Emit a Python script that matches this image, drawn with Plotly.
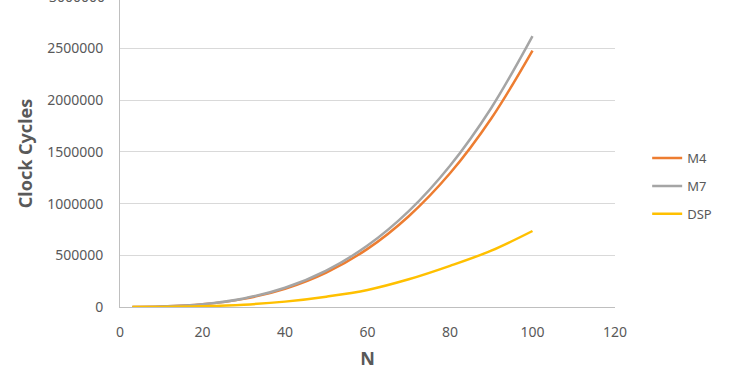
import plotly.graph_objects as go

N = [3, 10, 20, 30, 40, 50, 60, 70, 80, 90, 100]
M4 = [230, 4100, 25700, 78600, 176400, 333000, 562000, 878000, 1293000, 1823000, 2480000]
M7 = [240, 4400, 27200, 83000, 186000, 352000, 594000, 927000, 1366000, 1925000, 2620000]
DSP = [50, 800, 7000, 22000, 52000, 100000, 165000, 268000, 398000, 545000, 735000]

series = [("M4", M4, "#ED7D31"), ("M7", M7, "#A5A5A5"), ("DSP", DSP, "#FFC000")]
y_ticks = [0, 500000, 1000000, 1500000, 2000000, 2500000, 3000000]
x_ticks = [0, 20, 40, 60, 80, 100, 120]
Y_MAX = 2969000

FONT = "Noto Sans"
TXT = "#595959"

fig = go.Figure()
for name, vals, col in series:
    fig.add_trace(go.Scatter(x=N, y=vals, name=name, mode="lines",
                             line=dict(color=col, width=2.5, shape="spline"),
                             legendgroup=name))

fig.update_layout(
    width=750, height=375,
    margin=dict(l=120, r=135, t=0, b=68),
    paper_bgcolor="white", plot_bgcolor="white",
    font=dict(family=FONT, size=14, color=TXT),
    showlegend=True,
    legend=dict(x=1.065, xanchor="left", y=0.394, yanchor="middle",
                tracegroupgap=8, font=dict(size=13, color=TXT),
                bgcolor="rgba(0,0,0,0)"),
    xaxis=dict(range=[0, 120], tickvals=x_ticks, showgrid=False,
               showline=True, linecolor="#BFBFBF", linewidth=1,
               zeroline=False, ticks="", ticklabelstandoff=12,
               automargin=False, tickfont=dict(size=14, color=TXT),
               title=dict(text="<b>N</b>", standoff=12,
                          font=dict(size=18, color=TXT))),
    yaxis=dict(range=[0, Y_MAX], tickvals=y_ticks, tickformat="d",
               showgrid=True, gridcolor="#D9D9D9", gridwidth=1,
               showline=True, linecolor="#BFBFBF", linewidth=1,
               zeroline=False, ticks="", ticklabelstandoff=13,
               automargin=False, tickfont=dict(size=14, color=TXT),
               title=dict(text="<b>Clock Cycles</b>", standoff=9,
                          font=dict(size=18, color=TXT))),
)
fig.add_annotation(x=0, y=y_ticks[-1] / Y_MAX, xref="x", yref="paper",
                   text=str(y_ticks[-1]),
                   showarrow=False, xanchor="right", yanchor="middle",
                   xshift=-13, font=dict(size=14, color=TXT, family=FONT))

fig.write_html("out.html", config={"displayModeBar": False},
               post_script="document.body.style.margin='0';")
